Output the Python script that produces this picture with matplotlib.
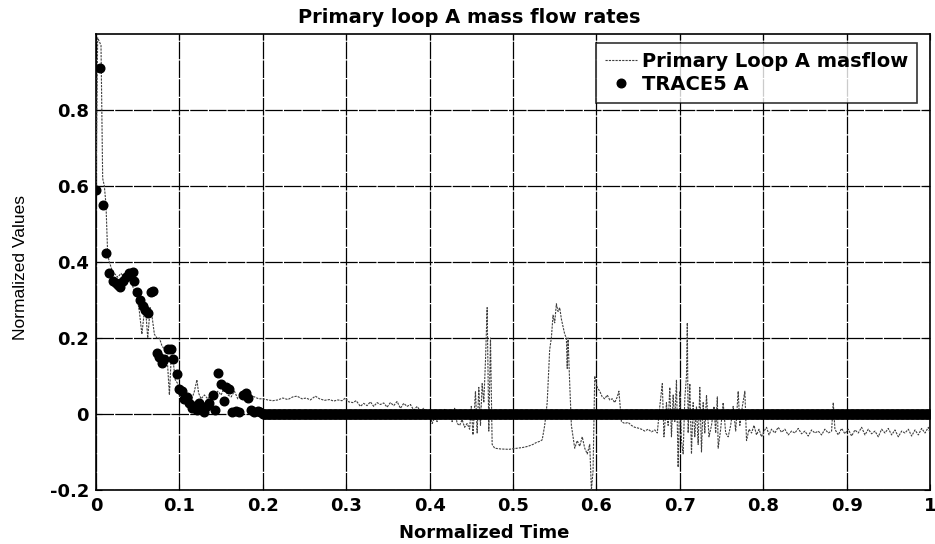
import numpy as np
import matplotlib
matplotlib.use('Agg')
import matplotlib.pyplot as plt

# Primary loop A mass flow (measured), normalized time / normalized value
masflow_t = [
    0.000, 0.002, 0.004, 0.006, 0.008, 0.010, 0.012, 0.014, 0.016, 0.019,
    0.022, 0.026, 0.030, 0.034, 0.038, 0.042, 0.045, 0.049, 0.052, 0.055,
    0.058, 0.060, 0.062, 0.065, 0.067, 0.070, 0.073, 0.076, 0.079, 0.082,
    0.085, 0.088, 0.090, 0.092, 0.095, 0.098, 0.100, 0.103, 0.106, 0.109,
    0.112, 0.115, 0.118, 0.121, 0.123, 0.126, 0.130, 0.134, 0.138, 0.142,
    0.146, 0.150, 0.154, 0.158, 0.162, 0.166, 0.170, 0.175, 0.180, 0.185,
    0.190, 0.195, 0.200, 0.206, 0.212, 0.218, 0.224, 0.230, 0.236, 0.241,
    0.247, 0.252, 0.257, 0.263, 0.268, 0.274, 0.280, 0.285, 0.290, 0.295,
    0.299, 0.303, 0.308, 0.312, 0.317, 0.321, 0.325, 0.329, 0.333, 0.337,
    0.341, 0.345, 0.349, 0.353, 0.357, 0.361, 0.365, 0.369, 0.373, 0.377,
    0.381, 0.385, 0.389, 0.393, 0.397, 0.400, 0.403, 0.406, 0.409, 0.412,
    0.415, 0.418, 0.421, 0.424, 0.427, 0.430, 0.433, 0.436, 0.439, 0.442,
    0.445, 0.448, 0.450, 0.452, 0.455, 0.457, 0.459, 0.461, 0.463, 0.465,
    0.467, 0.469, 0.471, 0.473, 0.475, 0.478, 0.485, 0.495, 0.505, 0.512,
    0.518, 0.524, 0.528, 0.532, 0.535, 0.538, 0.541, 0.544, 0.546, 0.548,
    0.550, 0.552, 0.554, 0.556, 0.558, 0.560, 0.562, 0.564, 0.565, 0.566,
    0.568, 0.570, 0.572, 0.574, 0.577, 0.580, 0.583, 0.586, 0.589, 0.592,
    0.594, 0.596, 0.598, 0.601, 0.604, 0.607, 0.610, 0.613, 0.616, 0.619,
    0.622, 0.625, 0.627, 0.630, 0.634, 0.638, 0.642, 0.646, 0.650, 0.654,
    0.658, 0.662, 0.666, 0.670, 0.673, 0.676, 0.679, 0.681, 0.684, 0.686,
    0.688, 0.690, 0.692, 0.694, 0.696, 0.698, 0.700, 0.702, 0.704, 0.706,
    0.708, 0.709, 0.710, 0.712, 0.714, 0.716, 0.718, 0.720, 0.722, 0.724,
    0.726, 0.728, 0.730, 0.732, 0.735, 0.738, 0.741, 0.743, 0.745, 0.746,
    0.749, 0.752, 0.755, 0.758, 0.761, 0.764, 0.767, 0.770, 0.772, 0.775,
    0.778, 0.780, 0.783, 0.786, 0.789, 0.792, 0.795, 0.798, 0.801, 0.804,
    0.807, 0.810, 0.814, 0.818, 0.822, 0.826, 0.830, 0.834, 0.838, 0.842,
    0.846, 0.850, 0.854, 0.858, 0.862, 0.866, 0.870, 0.874, 0.878, 0.882,
    0.884, 0.886, 0.890, 0.894, 0.898, 0.902, 0.906, 0.910, 0.914, 0.918,
    0.922, 0.926, 0.930, 0.934, 0.938, 0.942, 0.946, 0.950, 0.954, 0.958,
    0.962, 0.966, 0.970, 0.974, 0.978, 0.982, 0.986, 0.990, 0.994, 0.998,
    1.000,
]
masflow_v = [
    0.59, 0.99, 0.98, 0.97, 0.62, 0.60, 0.55, 0.42, 0.40, 0.38,
    0.37, 0.36, 0.37, 0.36, 0.37, 0.35, 0.33, 0.31, 0.27, 0.21,
    0.27, 0.26, 0.20, 0.28, 0.26, 0.21, 0.20, 0.20, 0.18, 0.17,
    0.16, 0.05, 0.14, 0.15, 0.09, 0.08, 0.05, 0.04, 0.05, 0.04,
    0.05, 0.04, 0.06, 0.09, 0.055, 0.04, 0.05, 0.04, 0.05, 0.045,
    0.06, 0.05, 0.07, 0.05, 0.045, 0.06, 0.04, 0.05, 0.045, 0.05,
    0.045, 0.04, 0.04, 0.037, 0.035, 0.037, 0.042, 0.038, 0.045, 0.047,
    0.04, 0.042, 0.037, 0.047, 0.04, 0.036, 0.038, 0.034, 0.037, 0.035,
    0.042, 0.032, 0.03, 0.035, 0.02, 0.028, 0.022, 0.032, 0.02, 0.03,
    0.025, 0.029, 0.018, 0.03, 0.022, 0.033, 0.015, 0.028, 0.02, 0.025,
    0.01, 0.02, 0.008, 0.015, -0.01, 0.01, -0.025, -0.01, -0.02, 0.005,
    -0.012, 0.012, -0.01, 0.008, -0.02, 0.015, -0.025, -0.03, -0.015, -0.035,
    -0.025, -0.04, 0.02, -0.055, 0.06, -0.05, 0.07, -0.03, 0.08, 0.03,
    0.14, 0.28, -0.045, 0.2, -0.08, -0.09, -0.092, -0.093, -0.09, -0.088,
    -0.085, -0.08, -0.075, -0.072, -0.068, -0.03, 0.03, 0.17, 0.2, 0.26,
    0.24, 0.29, 0.27, 0.28, 0.25, 0.23, 0.21, 0.2, 0.12, 0.2,
    0.08, -0.03, -0.06, -0.09, -0.07, -0.085, -0.06, -0.09, -0.105, -0.08,
    -0.2, -0.15, 0.1, 0.07, 0.06, 0.045, 0.04, 0.05, 0.037, 0.04,
    0.03, 0.045, 0.06, -0.02, -0.025, -0.022, -0.03, -0.035, -0.037, -0.04,
    -0.045, -0.04, -0.047, -0.042, -0.05, 0.02, 0.08, -0.06, 0.03, -0.03,
    0.07, -0.06, 0.05, -0.02, 0.09, -0.14, 0.06, -0.07, -0.105, 0.04,
    0.1, 0.24, -0.05, 0.08, -0.105, 0.03, -0.06, 0.02, -0.08, 0.07,
    -0.1, 0.03, -0.05, 0.05, -0.06, -0.03, 0.02, -0.05, 0.045, -0.09,
    -0.04, 0.03, -0.05, -0.06, -0.03, 0.02, -0.045, 0.06, -0.03, 0.02,
    0.06, -0.07, -0.04, -0.05, -0.03, -0.055, -0.04, -0.06, -0.045, -0.035,
    -0.055, -0.04, -0.05, -0.035, -0.048, -0.04, -0.055, -0.045, -0.05, -0.038,
    -0.052, -0.045, -0.058, -0.042, -0.05, -0.045, -0.055, -0.04, -0.05, -0.045,
    0.03, -0.04, -0.055, -0.038, -0.052, -0.04, -0.058, -0.042, -0.05, -0.035,
    -0.055, -0.04, -0.052, -0.045, -0.06, -0.04, -0.05, -0.038, -0.055, -0.042,
    -0.06, -0.045, -0.05, -0.04, -0.058, -0.042, -0.055, -0.038, -0.05, -0.035,
    -0.05,
]

# TRACE5 A simulation points, early transient
trace_t = [
    0.000, 0.005, 0.008, 0.012, 0.016, 0.020, 0.024, 0.026, 0.029, 0.032,
    0.036, 0.040, 0.044, 0.046, 0.049, 0.053, 0.056, 0.059, 0.062, 0.066,
    0.068, 0.073, 0.076, 0.079, 0.082, 0.086, 0.090, 0.092, 0.097, 0.100,
    0.103, 0.106, 0.109, 0.112, 0.115, 0.118, 0.121, 0.124, 0.127, 0.130,
    0.133, 0.136, 0.140, 0.143, 0.146, 0.150, 0.153, 0.156, 0.160, 0.163,
    0.168, 0.172, 0.176, 0.180, 0.182, 0.186, 0.190, 0.194, 0.197,
]
trace_v = [
    0.59, 0.91, 0.55, 0.425, 0.37, 0.35, 0.345, 0.34, 0.335, 0.35,
    0.36, 0.37, 0.375, 0.35, 0.32, 0.30, 0.285, 0.275, 0.265, 0.32,
    0.325, 0.16, 0.15, 0.135, 0.145, 0.17, 0.17, 0.145, 0.105, 0.065,
    0.06, 0.04, 0.045, 0.03, 0.015, 0.02, 0.01, 0.03, 0.015, 0.005,
    0.02, 0.03, 0.05, 0.01, 0.107, 0.08, 0.035, 0.07, 0.065, 0.005,
    0.008, 0.006, 0.05, 0.055, 0.042, 0.01, 0.005, 0.008, 0.006,
]
# after t=0.2 the simulation sits on zero (dense output grid)
trace_tail_t = np.linspace(0.2, 1.0, 801)
trace_tail_v = np.zeros_like(trace_tail_t)

x_ticks = [0, 0.1, 0.2, 0.3, 0.4, 0.5, 0.6, 0.7, 0.8, 0.9, 1]
x_ticklabels = ['0', '0.1', '0.2', '0.3', '0.4', '0.5', '0.6', '0.7', '0.8', '0.9', '1']
y_ticks = [-0.2, 0, 0.2, 0.4, 0.6, 0.8]
y_ticklabels = ['-0.2', '0', '0.2', '0.4', '0.6', '0.8']

plt.rcParams['font.family'] = ['DejaVu Sans']

fig = plt.figure(figsize=(9.35, 5.44), dpi=100)
ax = fig.add_axes([96 / 935, (544 - 490) / 544, 834 / 935, (490 - 34) / 544])

all_t = np.concatenate([trace_t, trace_tail_t])
all_v = np.concatenate([trace_v, trace_tail_v])

ax.plot(masflow_t, masflow_v, color='0.25', lw=0.8, linestyle=(0, (2, 1)),
        label='Primary Loop A masflow', zorder=3)
ax.plot(all_t, all_v, linestyle='none', marker='o', ms=6.2, color='black',
        label='TRACE5 A', zorder=4)

ax.set_xlim(0, 1)
ax.set_ylim(-0.2, 1.0)
ax.set_xticks(x_ticks)
ax.set_xticklabels(x_ticklabels)
ax.set_yticks(y_ticks)
ax.set_yticklabels(y_ticklabels)
ax.tick_params(direction='in', length=4, top=True, right=True, labelsize=13, pad=5)
for lab in ax.get_xticklabels() + ax.get_yticklabels():
    lab.set_fontweight('bold')

ax.grid(True, color='black', linestyle=(0, (14, 1)), linewidth=0.9)
for s in ax.spines.values():
    s.set_linewidth(1.2)

ax.set_title('Primary loop A mass flow rates', fontsize=14, fontweight='bold',
             x=0.447, pad=8)
ax.set_xlabel('Normalized Time', fontsize=13, fontweight='bold', labelpad=3)
ax.xaxis.set_label_coords(0.466, -0.075)
ax.set_ylabel('Normalized Values', fontsize=12.5,
              family=['Liberation Sans', 'DejaVu Sans'])
ax.yaxis.set_label_coords(-0.0815, 0.489)

leg = ax.legend(loc='upper right', fontsize=14, frameon=True, fancybox=False,
                edgecolor='black', bbox_to_anchor=(0.984, 0.98), borderaxespad=0,
                handlelength=1.65, labelspacing=0.2, borderpad=0.45,
                handletextpad=0.25)
leg.get_frame().set_linewidth(1.2)
for t in leg.get_texts():
    t.set_fontweight('bold')

fig.savefig('out.png', dpi=100)
